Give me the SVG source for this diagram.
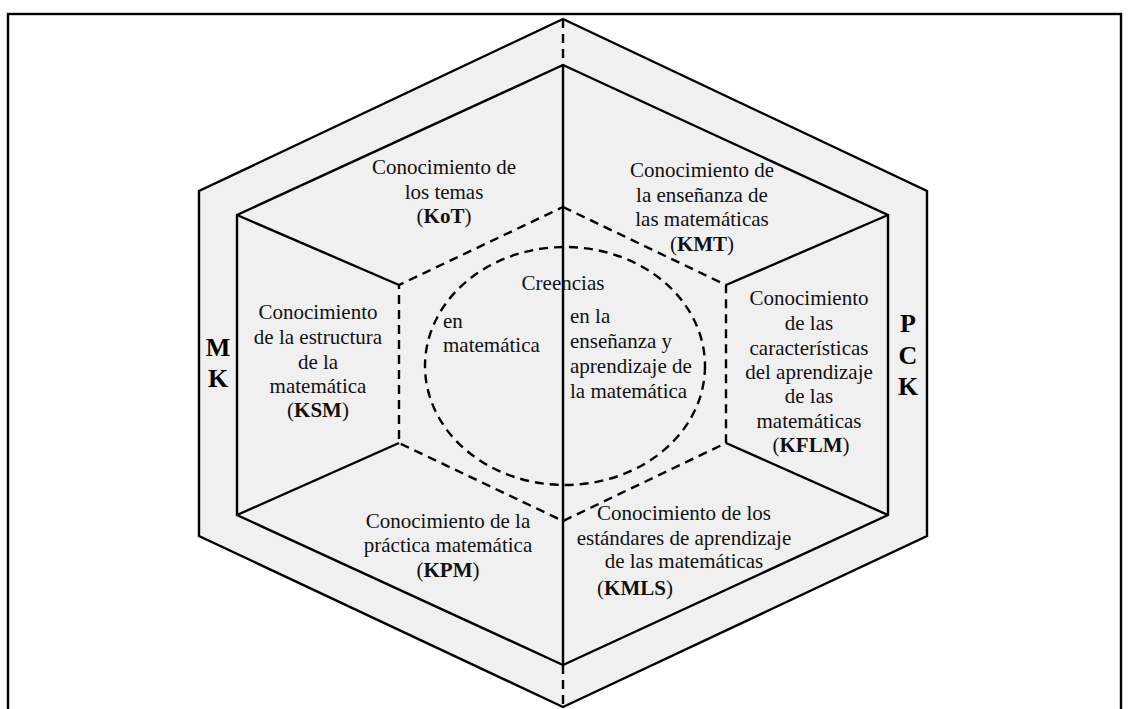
<svg xmlns="http://www.w3.org/2000/svg" width="1131" height="709" viewBox="0 0 1131 709">
  <style>
    .solid { fill: none; stroke: #000; stroke-width: 2.4; stroke-linejoin: miter; }
    .dash { fill: none; stroke: #000; stroke-width: 2.4; stroke-dasharray: 9 6; }
    .lbl { font-family: "Liberation Serif", "Times New Roman", "DejaVu Serif", serif; font-size: 21px; fill: #111; text-anchor: middle; }
    .left { text-anchor: start; }
    .big { font-family: "Liberation Serif", "Times New Roman", "DejaVu Serif", serif; font-size: 26px; font-weight: bold; fill: #000; text-anchor: middle; }
    .b { font-weight: bold; }
  </style>

  <!-- frame -->
  <rect x="8" y="14" width="1113" height="730" fill="#fff" stroke="#000" stroke-width="2.4"/>

  <!-- hexagon layers -->
  <g id="shapes">
    <polygon class="solid" style="fill:#f0f0f0" points="563,19 927,191 927,536 563,707 199,536 199,191"/>
    <polygon class="solid" points="563,65 888,215 888,515 563,665 237,515 237,215"/>
    <polygon class="dash" points="563,207 726,285 726,443 563,521 399,443 399,285"/>
    <ellipse class="dash" cx="565" cy="366" rx="140" ry="119"/>
  </g>

  <!-- dividing lines -->
  <g id="connectors">
    <line class="dash" x1="563" y1="19" x2="563" y2="65"/>
    <line class="dash" x1="563" y1="665" x2="563" y2="707"/>
    <line class="solid" x1="563" y1="65" x2="563" y2="665"/>
    <line class="solid" x1="237" y1="215" x2="399" y2="285"/>
    <line class="solid" x1="237" y1="515" x2="399" y2="443"/>
    <line class="solid" x1="888" y1="215" x2="726" y2="285"/>
    <line class="solid" x1="888" y1="515" x2="726" y2="443"/>
  </g>

  <g id="kot">
    <text class="lbl" x="444" y="174">Conocimiento de</text>
    <text class="lbl" x="444" y="199">los temas</text>
    <text class="lbl" x="444" y="223">(<tspan class="b">KoT</tspan>)</text>
  </g>

  <g id="kmt">
    <text class="lbl" x="702" y="177">Conocimiento de</text>
    <text class="lbl" x="702" y="202">la enseñanza de</text>
    <text class="lbl" x="702" y="226">las matemáticas</text>
    <text class="lbl" x="702" y="251">(<tspan class="b">KMT</tspan>)</text>
  </g>

  <g id="ksm">
    <text class="lbl" x="318" y="319">Conocimiento</text>
    <text class="lbl" x="318" y="344">de la estructura</text>
    <text class="lbl" x="318" y="369">de la</text>
    <text class="lbl" x="318" y="393">matemática</text>
    <text class="lbl" x="318" y="417">(<tspan class="b">KSM</tspan>)</text>
  </g>

  <g id="kflm">
    <text class="lbl" x="809" y="305">Conocimiento</text>
    <text class="lbl" x="809" y="330">de las</text>
    <text class="lbl" x="809" y="355">características</text>
    <text class="lbl" x="809" y="379">del aprendizaje</text>
    <text class="lbl" x="809" y="403">de las</text>
    <text class="lbl" x="809" y="428">matemáticas</text>
    <text class="lbl" x="811" y="452">(<tspan class="b">KFLM</tspan>)</text>
  </g>

  <g id="kpm">
    <text class="lbl" x="448" y="528">Conocimiento de la</text>
    <text class="lbl" x="448" y="552">práctica matemática</text>
    <text class="lbl" x="448" y="577">(<tspan class="b">KPM</tspan>)</text>
  </g>

  <g id="kmls">
    <text class="lbl" x="684" y="520">Conocimiento de los</text>
    <text class="lbl" x="684" y="545">estándares de aprendizaje</text>
    <text class="lbl" x="684" y="568">de las matemáticas</text>
    <text class="lbl" x="635" y="595">(<tspan class="b">KMLS</tspan>)</text>
  </g>

  <g id="creencias">
    <text class="lbl" x="563" y="290">Creencias</text>
    <text class="lbl left" x="443" y="328">en</text>
    <text class="lbl left" x="443" y="352">matemática</text>
    <text class="lbl left" x="570" y="323">en la</text>
    <text class="lbl left" x="570" y="348">enseñanza y</text>
    <text class="lbl left" x="570" y="373">aprendizaje de</text>
    <text class="lbl left" x="570" y="398">la matemática</text>
  </g>

  <g id="mk">
    <text class="big" x="218" y="356">M</text>
    <text class="big" x="218" y="387">K</text>
  </g>

  <g id="pck">
    <text class="big" x="908" y="332">P</text>
    <text class="big" x="908" y="364">C</text>
    <text class="big" x="908" y="395">K</text>
  </g>
</svg>
